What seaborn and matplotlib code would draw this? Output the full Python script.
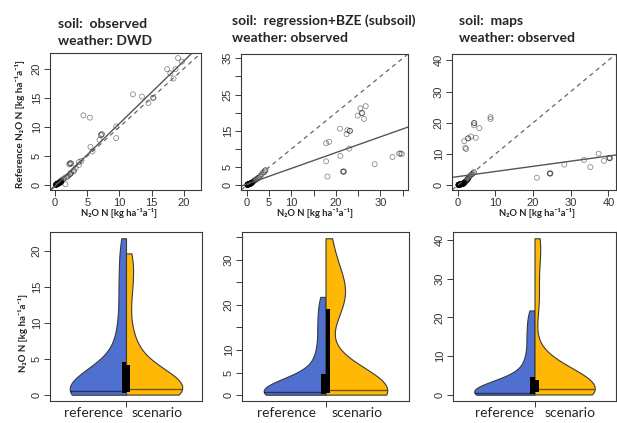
import numpy as np
import pandas as pd
import matplotlib
matplotlib.use("Agg")
import matplotlib.pyplot as plt
import seaborn as sns

# ---------------- data ----------------
# reference N2O-N and the three scenario estimates for the same sites
reference = [0.08, 0.10, 0.10, 0.12, 0.14, 0.15, 0.16, 0.18, 0.19, 0.20, 0.20, 0.21, 0.22, 0.23, 0.24, 0.25, 0.26, 0.27, 0.28, 0.28, 0.29,
             0.30, 0.31, 0.33, 0.34, 0.35, 0.36, 0.38, 0.39, 0.40, 0.42, 0.43, 0.45, 0.46, 0.48, 0.49, 0.50, 0.52, 0.53, 0.55, 0.56, 0.58,
             0.65, 0.75, 0.85, 1.0, 1.2, 1.4, 1.5, 1.7, 1.9, 2.0, 2.2, 2.4, 2.6, 3.0, 3.5, 3.6, 3.7, 3.8, 3.8, 4.0, 4.2,
             21.8, 21.2, 19.9, 19.9, 19.2, 18.3, 15.6, 15.2, 15.0, 15.0, 14.1, 12.0, 11.6, 10.1, 8.8, 8.6, 8.7, 8.1, 7.8, 6.6, 5.8]
scenario_dwd = [0.10, 0.15, 0.12, 0.20, 0.18, 0.22, 0.25, 0.20, 0.30, 0.26, 1.60, 0.28, 0.30, 0.32, 0.35, 0.30, 0.36, 0.40, 0.33, 0.38, 0.42,
                0.45, 0.40, 0.50, 0.48, 0.55, 0.60, 0.52, 0.65, 0.58, 0.62, 0.70, 0.66, 0.72, 0.68, 0.75, 0.80, 0.78, 0.85, 0.82, 0.90, 0.95,
                0.9, 1.0, 0.9, 1.2, 1.4, 1.7, 1.9, 2.1, 2.3, 2.4, 2.5, 2.9, 2.9, 3.2, 3.7, 2.2, 2.4, 2.3, 2.5, 3.7, 4.1,
                19.1, 19.7, 17.4, 18.7, 17.9, 18.4, 12.1, 13.5, 15.3, 15.2, 14.5, 4.4, 5.4, 9.5, 7.3, 7.1, 7.2, 9.5, 6.9, 5.5, 5.8]
scenario_bze = [0.10, 0.12, 0.14, 0.15, 0.18, 0.20, 0.22, 0.20, 0.25, 0.28, 0.30, 0.26, 0.30, 0.35, 0.30, 0.38, 0.36, 0.42, 0.40, 0.45, 0.50,
                0.50, 0.55, 0.52, 0.60, 0.58, 0.65, 0.62, 0.70, 0.68, 0.75, 0.72, 0.80, 0.78, 0.85, 0.82, 0.90, 0.88, 0.95, 0.92, 1.00, 1.05,
                1.1, 1.2, 1.3, 1.4, 1.6, 1.8, 2.0, 2.2, 2.4, 2.6, 2.8, 18.1, 3.0, 3.3, 3.6, 3.9, 21.7, 21.8, 21.6, 4.1, 4.2,
                26.7, 25.5, 25.8, 25.9, 24.9, 26.3, 20.9, 22.6, 23.1, 23.2, 22.4, 18.5, 17.8, 23.0, 34.5, 34.8, 34.2, 21.0, 32.7, 17.8, 28.7]
scenario_maps = [0.15, 0.20, 0.18, 0.25, 0.22, 0.30, 0.28, 0.35, 0.40, 0.45, 0.42, 0.50, 0.55, 0.60, 0.58, 0.65, 0.70, 0.75, 0.80, 0.85, 0.90,
                 0.90, 0.95, 0.95, 1.00, 1.00, 1.05, 1.10, 1.10, 1.15, 1.20, 1.20, 1.25, 1.30, 1.30, 1.35, 1.40, 1.40, 1.45, 1.50, 1.50, 1.55,
                 1.6, 1.7, 1.8, 1.9, 2.0, 2.2, 2.4, 2.5, 2.6, 2.7, 2.8, 21.0, 3.0, 3.3, 3.6, 3.9, 24.5, 24.6, 24.4, 4.2, 4.3,
                 8.7, 8.7, 4.3, 4.4, 4.3, 5.7, 3.5, 4.8, 2.8, 2.7, 1.7, 2.0, 2.2, 37.4, 40.3, 40.4, 40.2, 33.5, 38.8, 28.3, 35.2]

scenarios = [scenario_dwd, scenario_bze, scenario_maps]
soil_titles = ["soil:  observed", "soil:  regression+BZE (subsoil)", "soil:  maps"]
weather_titles = ["weather: DWD", "weather: observed", "weather: observed"]
groups = ["reference", "scenario"]

# regression lines (reference ~ scenario)
fit_intercepts = [-0.1, 0.3, 2.75]
fit_slopes = [1.07, 0.435, 0.165]

# axis ticks and labels
scatter_xticks = [[0, 5, 10, 15, 20], [0, 5, 10, 15, 20, 25, 30, 35], [0, 10, 20, 30, 40]]
scatter_xlabels = [["0", "5", "10", "15", "20"], ["0", "5", "10", "", "20", "", "30", ""], ["0", "10", "20", "30", "40"]]
scatter_yticks = [[0, 5, 10, 15, 20], [0, 5, 10, 15, 20, 25, 30, 35], [0, 10, 20, 30, 40]]
scatter_ylabels = [["0", "5", "10", "15", "20"], ["0", "5", "", "15", "", "25", "", "35"], ["0", "10", "20", "30", "40"]]
violin_yticks = [[0, 5, 10, 15, 20], [0, 5, 10, 15, 20, 25, 30, 35], [0, 10, 20, 30, 40]]
violin_ylabels = [["0", "5", "10", "15", "20"], ["0", "5", "10", "", "20", "", "30", ""], ["0", "10", "20", "30", "40"]]

unit_label = "N\u2082O N [kg ha\u207b\u00b9a\u207b\u00b9]"

# ---------------- style ----------------
sns.set_style("ticks")
plt.rcParams["font.family"] = ["Liberation Sans", "DejaVu Sans"]
BLUE = "#5070CF"
ORANGE = "#FFB805"
EDGE = "#3a3a3a"

W, H = 617, 423
fig = plt.figure(figsize=(W / 100, H / 100), dpi=100)
fig.patch.set_facecolor("white")


def add_ax(l, t, r, b):
    return fig.add_axes([l / W, 1 - b / H, (r - l) / W, (b - t) / H])


def style_ax(ax):
    for sp in ax.spines.values():
        sp.set_visible(True)
        sp.set_color(EDGE)
        sp.set_linewidth(0.8)
    ax.tick_params(direction="out", length=4, width=0.7, color=EDGE,
                   labelsize=8, labelcolor="#333333", pad=2)
    ax.tick_params(axis="y", labelrotation=90)
    for lab in ax.get_yticklabels():
        lab.set_va("center")


top_boxes = [(50, 53, 201, 190), (241, 54, 408, 190), (452, 54, 616, 190)]
bot_boxes = [(50, 232, 202, 401), (242, 232, 409, 401), (453, 232, 616, 401)]

for i in range(3):
    ref = np.array(reference)
    sc = np.array(scenarios[i])
    lo = min(ref.min(), sc.min())
    hi = max(ref.max(), sc.max())
    pad = 0.04 * (hi - lo)
    lims = (lo - pad, hi + pad)

    # ---- scatter ----
    ax = add_ax(*top_boxes[i])
    sns.scatterplot(x=sc, y=ref, ax=ax, marker="o", s=13, facecolors="none",
                    edgecolor="black", linewidth=0.6, alpha=0.45, legend=False)
    ax.axline((0, 0), slope=1, color="#666666", lw=0.9, ls=(0, (3.5, 3)))
    ax.axline((0, fit_intercepts[i]), slope=fit_slopes[i], color="#555555", lw=1.0)
    ax.set_xlim(lims)
    ax.set_ylim(lims)
    ax.set_xticks(scatter_xticks[i])
    ax.set_xticklabels(scatter_xlabels[i])
    ax.set_yticks(scatter_yticks[i])
    ax.set_yticklabels(scatter_ylabels[i])
    ax.set_xlabel("")
    ax.set_ylabel("")
    style_ax(ax)

    # ---- violin ----
    bx = add_ax(*bot_boxes[i])
    df = pd.DataFrame({"value": np.concatenate([ref, sc]),
                       "group": [groups[0]] * len(ref) + [groups[1]] * len(sc)})
    sns.violinplot(data=df, y="value", hue="group", hue_order=groups, split=True,
                   inner=None, cut=0, density_norm="width", width=0.74,
                   palette={groups[0]: BLUE, groups[1]: ORANGE}, saturation=1,
                   linewidth=0.8, linecolor=EDGE, bw_adjust=1.1, legend=False, ax=bx)
    bx.set_xlim(-0.5, 0.5)
    bx.set_ylim(lims)
    # median lines clipped to each half-violin
    polys = [c for c in bx.collections if len(c.get_paths()) > 0]
    for coll in polys:
        path = coll.get_paths()[0]
        side_vals = ref if path.vertices[:, 0].mean() < 0 else sc
        med = np.median(side_vals)
        ln, = bx.plot([-0.5, 0.5], [med, med], color="black", alpha=0.55, lw=1.0, zorder=3)
        ln.set_clip_path(path, coll.get_transform())
    # interquartile boxes
    for vals, x0 in [(ref, -0.026), (sc, 0.0)]:
        q1, q3 = np.percentile(vals, [25, 75])
        bx.bar(x0, q3 - q1, bottom=q1, width=0.026, align="edge", color="black",
               edgecolor="black", linewidth=0, zorder=4)
    bx.set_xticks([0])
    bx.set_xticklabels([""])
    bx.set_yticks(violin_yticks[i])
    bx.set_yticklabels(violin_ylabels[i])
    bx.set_xlabel("")
    bx.set_ylabel("")
    style_ax(bx)

# ---------------- texts ----------------
title_x = [58, 232, 459]
title_y1 = [28, 25, 25]
title_y2 = [45, 42, 42]
for i in range(3):
    fig.text(title_x[i] / W, 1 - title_y1[i] / H, soil_titles[i], fontsize=10,
             fontweight="bold", family=["Lato", "DejaVu Sans"], ha="left", va="baseline")
    fig.text(title_x[i] / W, 1 - title_y2[i] / H, weather_titles[i], fontsize=10,
             fontweight="bold", family=["Lato", "DejaVu Sans"], ha="left", va="baseline")

xlab_cx = [119, 315, 537]
for i in range(3):
    fig.text(xlab_cx[i] / W, 1 - 213 / H, unit_label, fontsize=6.8, fontweight="bold",
             family=["Lato", "DejaVu Sans"], ha="center", va="center")

fig.text(20 / W, 1 - 124 / H, "Reference " + unit_label, fontsize=7.2, fontweight="bold",
         family=["Lato", "DejaVu Sans"], rotation=90, ha="center", va="center")
fig.text(23 / W, 1 - 333 / H, unit_label, fontsize=7, fontweight="bold",
         family=["Lato", "DejaVu Sans"], rotation=90, ha="center", va="center")

ref_cx = [93, 286, 504]
scen_cx = [157, 357, 570]
for i in range(3):
    fig.text(ref_cx[i] / W, 1 - 413 / H, groups[0], fontsize=10,
             family=["Lato", "DejaVu Sans"], ha="center", va="center")
    fig.text(scen_cx[i] / W, 1 - 413 / H, groups[1], fontsize=10,
             family=["Lato", "DejaVu Sans"], ha="center", va="center")

fig.savefig("out.png", dpi=100)
